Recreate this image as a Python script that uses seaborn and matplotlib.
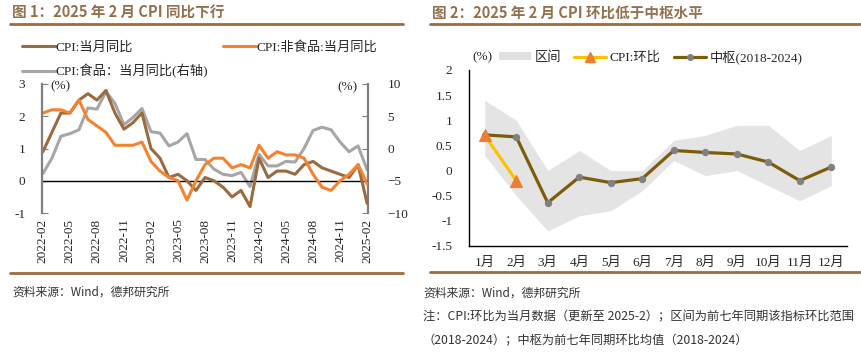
import numpy as np
import pandas as pd
import matplotlib
matplotlib.use("Agg")
import matplotlib.pyplot as plt
from matplotlib.lines import Line2D
from matplotlib.patches import Patch
import seaborn as sns

# ---- data: figure 1 (YoY, 2022-02 .. 2025-02) ----
months = pd.period_range("2022-02", "2025-02", freq="M").strftime("%Y-%m").tolist()
cpi_yoy = [0.9, 1.5, 2.1, 2.1, 2.5, 2.7, 2.5, 2.8, 2.1, 1.6, 1.8,
           2.1, 1.0, 0.7, 0.1, 0.2, 0.0, -0.3, 0.1, 0.0, -0.2, -0.5, -0.3,
           -0.8, 0.7, 0.1, 0.3, 0.3, 0.2, 0.5, 0.6, 0.4, 0.3, 0.2, 0.1,
           0.5, -0.7]
nonfood_yoy = [2.1, 2.2, 2.2, 2.1, 2.5, 1.9, 1.7, 1.5, 1.1, 1.1, 1.1,
               1.2, 0.6, 0.3, 0.1, 0.0, -0.6, 0.0, 0.5, 0.7, 0.7, 0.4, 0.5,
               0.4, 1.1, 0.7, 0.9, 0.8, 0.8, 0.7, 0.2, -0.2, -0.3, 0.0, 0.2,
               0.5, -0.1]
food_yoy = [-3.9, -1.5, 1.9, 2.3, 2.9, 6.3, 6.1, 8.8, 7.0, 3.7, 4.8,
            6.2, 2.6, 2.4, 0.4, 1.0, 2.3, -1.7, -1.7, -3.2, -4.0, -4.2, -3.7,
            -5.9, -0.9, -2.7, -2.7, -2.0, -2.1, 0.0, 2.8, 3.3, 2.9, 1.0, -0.5,
            0.4, -3.3]

# ---- data: figure 2 (MoM by calendar month) ----
month_labels = ["1月", "2月", "3月", "4月", "5月", "6月", "7月", "8月", "9月", "10月", "11月", "12月"]
band_upper = [1.4, 1.0, 0.0, 0.4, 0.0, 0.0, 0.6, 0.7, 0.9, 0.9, 0.4, 0.7]
band_lower = [0.3, -0.5, -1.2, -0.9, -0.8, -0.4, 0.2, -0.1, 0.0, -0.3, -0.6, -0.3]
median_mom = [0.71, 0.67, -0.64, -0.13, -0.24, -0.16, 0.40, 0.36, 0.33, 0.17, -0.20, 0.07]
cpi_mom = [0.7, -0.2]

sns.set_style("white")
SERIF = ["Liberation Serif", "Noto Sans CJK SC"]
SANS = ["Noto Sans CJK SC", "DejaVu Sans"]
plt.rcParams["font.family"] = SERIF

BROWN = "#9C6B3F"
C_CPI = "#9A6A40"
C_NONFOOD = "#F5822E"
C_FOOD = "#A6A6A6"
C_BAND = "#E4E4E4"
C_MED = "#7A5C0A"
C_MOM = "#FFC000"
C_TRI = "#ED7D31"

W, H = 862, 359
fig = plt.figure(figsize=(W / 100, H / 100), dpi=100)


def px_axes(x0, y0, x1, y1):
    return fig.add_axes([x0 / W, 1 - y1 / H, (x1 - x0) / W, (y1 - y0) / H])


def hline(x0, x1, y, lw=2.0):
    fig.add_artist(Line2D([x0 / W, x1 / W], [1 - y / H] * 2, color=BROWN, lw=lw))


# headers / footers
fig.text(12 / W, 1 - 13 / H, "图 1：2025 年 2 月 CPI 同比下行", family=SANS, weight="bold",
         fontsize=10.5, color="#93704E", va="center")
fig.text(432 / W, 1 - 13 / H, "图 2：2025 年 2 月 CPI 环比低于中枢水平", family=SANS, weight="bold",
         fontsize=10.5, color="#93704E", va="center")
hline(10, 403, 24)
hline(430, 862, 24)
hline(10, 403, 273)
hline(430, 862, 272)
fig.text(12 / W, 1 - 292 / H, "资料来源：Wind，德邦研究所", family=SANS, fontsize=8.5, color="#333333", va="center")
fig.text(423 / W, 1 - 293 / H, "资料来源：Wind，德邦研究所", family=SANS, fontsize=8.5, color="#333333", va="center")
fig.text(423 / W, 1 - 317 / H, "注：CPI:环比为当月数据（更新至 2025-2）；区间为前七年同期该指标环比范围",
         family=SANS, fontsize=8.8, color="#333333", va="center")
fig.text(423 / W, 1 - 341 / H, "（2018-2024）；中枢为前七年同期环比均值（2018-2024）",
         family=SANS, fontsize=8.8, color="#333333", va="center")

# ---------------- figure 1 ----------------
ax = px_axes(42, 84, 368, 213)
x = np.arange(len(months))
sns.lineplot(x=x, y=cpi_yoy, ax=ax, color=C_CPI, lw=2.2)
sns.lineplot(x=x, y=nonfood_yoy, ax=ax, color=C_NONFOOD, lw=2.2)
ax.axhline(0, color="black", lw=1.0, zorder=1)
ax.set_ylim(-1, 3)
ax.set_xlim(-0.1, 36.1)
ax.set_yticks([-1, 0, 1, 2, 3])
ax.set_yticklabels(["-1", "0", "1", "2", "3"])
ax.set_xticks(x[::3])
ax.set_xticklabels(months[::3], rotation=90)
ax2 = ax.twinx()
sns.lineplot(x=x, y=food_yoy, ax=ax2, color=C_FOOD, lw=2.2)
ax2.set_ylim(-10, 10)
ax2.set_yticks([-10, -5, 0, 5, 10])
ax2.set_zorder(0)
ax.set_zorder(1)
ax.patch.set_visible(False)
for a in (ax, ax2):
    a.set_xlabel("")
    a.set_ylabel("")
    for s in ("top", "bottom"):
        a.spines[s].set_visible(False)
    a.tick_params(axis="y", direction="in", length=4, color="#7F7F7F", labelsize=9.5, pad=12)
    a.tick_params(axis="x", length=0, labelsize=9.5, pad=4)
ax.spines["right"].set_visible(False)
ax2.spines["left"].set_visible(False)
ax.spines["left"].set_color("#7F7F7F")
ax.spines["left"].set_linewidth(1.6)
ax2.spines["right"].set_color("#7F7F7F")
ax2.spines["right"].set_linewidth(1.6)
for t in ax2.get_yticklabels():
    t.set_horizontalalignment("left")
ax2.tick_params(axis="y", pad=14)
fig.text(50 / W, 1 - 86 / H, "(%)", fontsize=9.5, va="center")
fig.text(337 / W, 1 - 87 / H, "(%)", fontsize=9.5, va="center")

h1 = Line2D([], [], color=C_CPI, lw=2.2)
h2 = Line2D([], [], color=C_NONFOOD, lw=2.2)
h3 = Line2D([], [], color=C_FOOD, lw=2.2)
fig.legend([h1, h3, h2], ["CPI:当月同比", "CPI:食品：当月同比(右轴)", "CPI:非食品:当月同比"],
           ncol=2, loc="upper left", bbox_to_anchor=(10 / W, 1 - 29 / H), frameon=False,
           fontsize=9.5, handlelength=2.5, handletextpad=0.05, columnspacing=1.1, labelspacing=0.8)

# ---------------- figure 2 ----------------
bx = px_axes(469, 70, 847, 246)
mx = np.arange(1, 13)
bx.fill_between(mx, band_lower, band_upper, color=C_BAND, lw=0, zorder=1)
sns.lineplot(x=mx, y=median_mom, ax=bx, color=C_MED, lw=2.3, marker="o", markersize=4.5,
             markerfacecolor="#808080", markeredgecolor="#808080", zorder=3)
sns.lineplot(x=mx[:2], y=cpi_mom, ax=bx, color=C_MOM, lw=2.3, marker="^", markersize=9,
             markerfacecolor=C_TRI, markeredgecolor=C_TRI, zorder=4)
bx.set_xlim(0.5, 12.5)
bx.set_ylim(-1.5, 2)
bx.set_yticks([-1.5, -1, -0.5, 0, 0.5, 1, 1.5, 2])
bx.set_yticklabels(["-1.5", "-1", "-0.5", "0", "0.5", "1", "1.5", "2"])
bx.set_xticks(mx)
bx.set_xticklabels(month_labels)
bx.set_xlabel("")
bx.set_ylabel("")
for s in ("top", "right"):
    bx.spines[s].set_visible(False)
for s in ("left", "bottom"):
    bx.spines[s].set_color("black")
    bx.spines[s].set_linewidth(1.0)
bx.tick_params(axis="y", direction="in", length=4, labelsize=9.5, pad=12)
bx.tick_params(axis="x", length=0, labelsize=9.5, pad=8)
fig.text(472 / W, 1 - 57 / H, "(%)", fontsize=9.5, va="center")

g1 = Patch(facecolor="#E0E0E0", edgecolor="none")
g2 = Line2D([], [], color=C_MOM, lw=2.3, marker="^", markersize=7, markerfacecolor=C_TRI, markeredgecolor=C_TRI)
g3 = Line2D([], [], color=C_MED, lw=2.3, marker="o", markersize=4, markerfacecolor="#808080", markeredgecolor="#808080")
fig.legend([g1, g2, g3], ["区间", "CPI:环比", "中枢(2018-2024)"], ncol=3, loc="center left",
           bbox_to_anchor=(487 / W, 1 - 57 / H), frameon=False, fontsize=9.5,
           handlelength=2.4, handleheight=0.5, handletextpad=0.3, columnspacing=1.0)

fig.savefig("out.png", dpi=100)
